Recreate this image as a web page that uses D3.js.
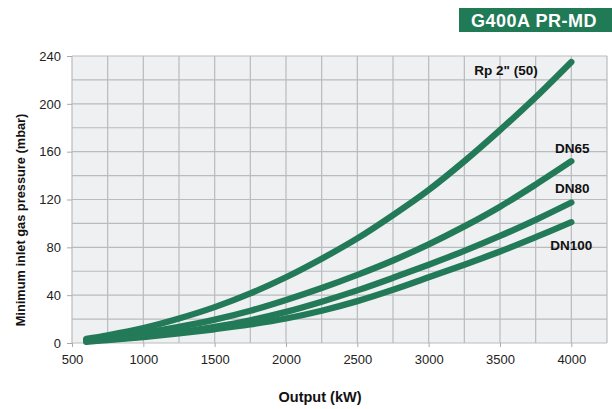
<!DOCTYPE html>
<html><head><meta charset="utf-8">
<script src="https://cdn.jsdelivr.net/npm/d3@7"></script>
<style>body{margin:0;background:#fff}svg{display:block;font-family:"Liberation Sans",Arial,sans-serif}</style>
</head><body><svg id="c" width="612" height="409"></svg>
<script>
const outputs = [600, 750, 1000, 1250, 1500, 1750, 2000, 2250, 2500, 2750, 3000, 3250, 3500, 3750, 4000];
const rp2   = [3.5, 6.5, 12.5, 20.5, 30, 41.5, 55, 70.5, 87.5, 107, 128, 152, 178, 205.5, 235];
const dn65  = [2.5, 4.5, 8.5, 13.5, 19.5, 27, 36, 46, 57, 69, 82.5, 97.5, 114, 132.5, 152];
const dn80  = [1.5, 3, 5.5, 9, 13.5, 19, 26, 34.5, 44, 54.5, 65.5, 77, 89.5, 103, 117.5];
const dn100 = [1, 2.5, 5, 8, 11.5, 15.5, 20.5, 27, 35, 44.5, 55, 65.5, 76.5, 88.5, 101];
const seriesNames = ['Rp 2" (50)', 'DN65', 'DN80', 'DN100'];
const labelX = [3542, 4006, 4006, 4000];
const labelY = [224, 159, 125.5, 78];
const xTicks = [500, 1000, 1500, 2000, 2500, 3000, 3500, 4000];
const yTicks = [0, 40, 80, 120, 160, 200, 240];
const title = "G400A PR-MD";

const svg = d3.select("#c");
const m = {l: 72, r: 607, t: 56, b: 343};
const x = d3.scaleLinear().domain([500, 4250]).range([m.l, m.r]);
const y = d3.scaleLinear().domain([0, 240]).range([m.b, m.t]);
const green = "#237a58";

// title box
svg.append("rect").attr("x", 459).attr("y", 8).attr("width", 153).attr("height", 24).attr("fill", "#1f7a55");
svg.append("text").attr("x", 534).attr("y", 26.5).attr("text-anchor", "middle").attr("fill", "#fff")
  .attr("font-weight", "bold").attr("font-size", 18).attr("letter-spacing", 0.5).text(title);

// plot background
svg.append("rect").attr("x", m.l).attr("y", m.t).attr("width", m.r - m.l).attr("height", m.b - m.t).attr("fill", "#eef0f2");

// grid
const g = svg.append("g");
g.selectAll(".vg").data(d3.range(500, 4251, 250)).enter().append("line")
  .attr("x1", d => x(d)).attr("x2", d => x(d)).attr("y1", m.t).attr("y2", m.b)
  .attr("stroke", "#b9bbbe").attr("stroke-width", 1.2);
g.selectAll(".hg").data(d3.range(0, 241, 20)).enter().append("line")
  .attr("x1", m.l).attr("x2", m.r).attr("y1", d => y(d)).attr("y2", d => y(d))
  .attr("stroke", "#b9bbbe").attr("stroke-width", 1.2);

// axes
const xa = svg.append("g").attr("transform", `translate(0,${m.b})`)
  .call(d3.axisBottom(x).tickValues(xTicks).tickSize(4).tickPadding(8).tickFormat(d3.format("d")));
const ya = svg.append("g").attr("transform", `translate(${m.l},0)`)
  .call(d3.axisLeft(y).tickValues(yTicks).tickSize(5).tickPadding(6));
[xa, ya].forEach(a => {
  a.select(".domain").remove();
  a.selectAll("line").attr("stroke", "#aaa");
  a.selectAll("text").attr("font-size", 13).attr("fill", "#222").attr("font-family", "Liberation Sans, Arial, sans-serif");
});

// lines
const all = [rp2, dn65, dn80, dn100];
const line = d3.line().x((d, i) => x(outputs[i])).y(d => y(d)).curve(d3.curveCatmullRom.alpha(0.5));
svg.append("g").selectAll("path").data(all).enter().append("path")
  .attr("d", line).attr("fill", "none").attr("stroke", green).attr("stroke-width", 6.3).attr("stroke-linecap", "round");

// labels
svg.append("g").selectAll("text").data(seriesNames).enter().append("text")
  .attr("x", (d, i) => x(labelX[i])).attr("y", (d, i) => y(labelY[i]))
  .attr("text-anchor", "middle").attr("font-weight", "bold").attr("font-size", 13.5).attr("fill", "#111").text(d => d);

// axis titles
svg.append("text").attr("x", 320).attr("y", 402).attr("text-anchor", "middle")
  .attr("font-weight", "bold").attr("font-size", 14.5).attr("fill", "#111").text("Output (kW)");
svg.append("text").attr("transform", `translate(25,220) rotate(-90)`).attr("text-anchor", "middle")
  .attr("font-weight", "bold").attr("font-size", 12.8).attr("fill", "#111").text("Minimum inlet gas pressure (mbar)");
</script></body></html>
